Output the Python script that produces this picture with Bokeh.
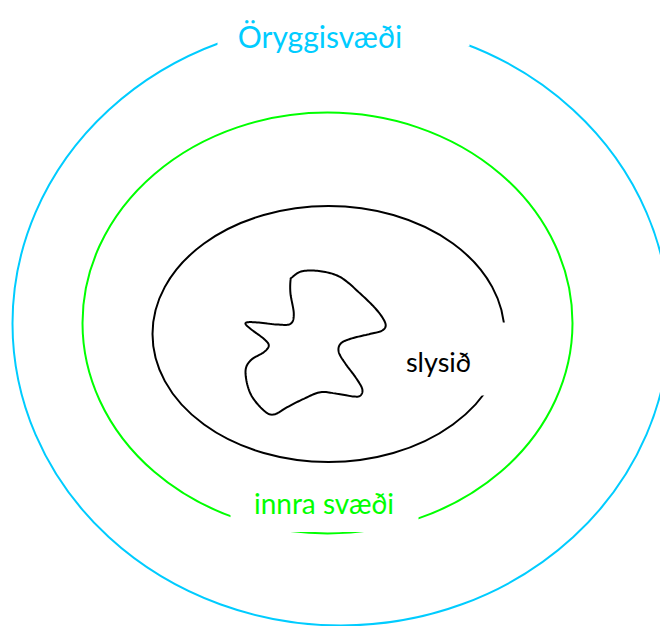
import numpy as np
from bokeh.plotting import figure
from bokeh.models import Range1d
from bokeh.core.properties import value
from bokeh.embed import file_html
from bokeh.resources import INLINE

# Zones (outer -> inner)
zone_labels = ["Öryggisvæði", "innra svæði", "slysið"]
zone_colors = ["#00CCFF", "#00FF00", "#000000"]
zone_cx = [340.5, 327.0, 328.0]
zone_cy = [323.0, 322.5, 333.5]
zone_w = [657.0, 490.0, 352.0]
zone_h = [604.0, 421.0, 256.0]

# label anchor points (center x, baseline y) and sizes
label_x = [319.5, 323.5, 438.0]
label_y = [35.0, 502.0, 361.0]
label_size = ["30px", "28px", "27px"]

# white label backgrounds (left, right, top, bottom)
box_left = [217.0, 230.0, 398.0]
box_right = [469.0, 418.0, 512.0]
box_top = [0.0, 466.0, 322.0]
box_bottom = [46.0, 531.5, 395.0]

# accident blob outline
blob_x = [291.7, 301.7, 320.0, 340.0, 360.0, 376.7, 385.0, 381.7, 370.0, 350.0,
          340.0, 338.3, 345.0, 355.0, 361.7, 360.0, 353.3, 336.7, 320.0, 303.3,
          286.7, 273.3, 263.3, 250.0, 245.0, 250.0, 263.3, 268.3, 263.3, 250.0,
          245.0, 253.3, 276.7, 290.0, 293.3, 290.0, 290.0]
blob_y = [276.7, 270.7, 270.7, 276.7, 293.3, 310.0, 323.3, 330.0, 333.3, 338.3,
          343.3, 351.7, 363.3, 376.7, 388.3, 395.0, 396.0, 393.3, 391.7, 398.3,
          406.7, 414.0, 410.0, 393.3, 371.7, 360.0, 351.7, 345.0, 338.3, 328.3,
          322.7, 321.7, 324.0, 323.3, 313.3, 293.3, 280.0]


def closed_catmull_rom(xs, ys, n=12):
    P = np.column_stack([xs, ys])
    m = len(P)
    out = []
    for i in range(m):
        p0, p1, p2, p3 = P[(i - 1) % m], P[i], P[(i + 1) % m], P[(i + 2) % m]
        for t in np.linspace(0, 1, n, endpoint=False):
            t2, t3 = t * t, t * t * t
            pt = 0.5 * ((2 * p1) + (-p0 + p2) * t + (2 * p0 - 5 * p1 + 4 * p2 - p3) * t2
                        + (-p0 + 3 * p1 - 3 * p2 + p3) * t3)
            out.append(pt)
    out.append(out[0])
    out = np.array(out)
    return out[:, 0], out[:, 1]


p = figure(width=660, height=626, output_backend="svg", toolbar_location=None,
           x_range=Range1d(0, 660), y_range=Range1d(626, 0),
           x_axis_type=None, y_axis_type=None, min_border=0)
p.grid.visible = False
p.outline_line_color = None
p.background_fill_color = "white"

p.ellipse(x=zone_cx, y=zone_cy, width=zone_w, height=zone_h,
          fill_color=None, line_color=zone_colors, line_width=2)

p.quad(left=box_left, right=box_right, top=box_top, bottom=box_bottom,
       fill_color="white", line_color=None)

bx, by = closed_catmull_rom(blob_x, blob_y)
p.line(bx, by, line_color="black", line_width=2)

for i in range(3):
    p.text(x=[label_x[i]], y=[label_y[i]], text=[zone_labels[i]],
           text_color=zone_colors[i], text_font=value("Lato"),
           text_font_size=label_size[i], text_align="center", text_baseline="alphabetic")

open("out.html", "w").write(file_html(p, INLINE))
